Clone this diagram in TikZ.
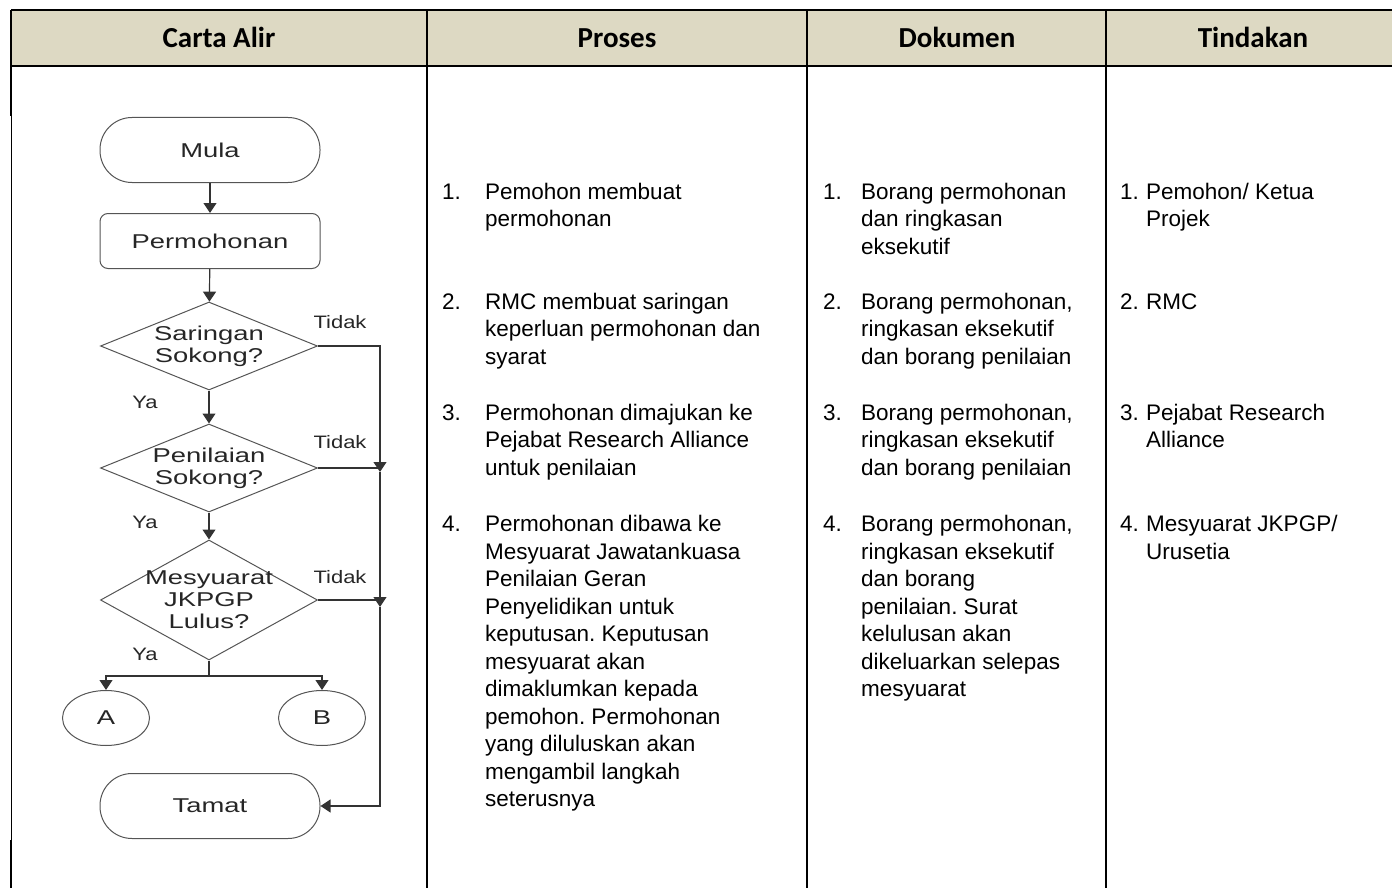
\documentclass[tikz,border=0pt]{standalone}
\usepackage{fontspec}
\setmainfont{Liberation Sans}
\newfontfamily\headfont{Carlito}
\newfontfamily\flowfont[FakeStretch=1.37]{Liberation Sans}
\newfontfamily\tagfont[FakeStretch=1.22]{Liberation Sans}
\usetikzlibrary{shapes.geometric,arrows.meta}
\definecolor{headfill}{HTML}{DDD9C3}
\definecolor{flowgray}{HTML}{555555}
\newcommand{\itemno}[2]{\llap{\makebox[#1][l]{#2}}}
\frenchspacing
\tikzset{
	tableline/.style={line width=2.5pt},
	headtext/.style={font=\headfont\bfseries\fontsize{29}{34}\selectfont, anchor=base, inner sep=0pt},
	cell/.style={anchor=north west, inner sep=0pt, align=left, font=\fontsize{22.5}{27.5}\selectfont},
	term/.style={draw=flowgray, line width=1pt, rounded corners=32pt, minimum width=220pt, minimum height=65pt, font=\flowfont\fontsize{20}{22}\selectfont, text=black!85},
	proc/.style={draw=flowgray, line width=1pt, rounded corners=8pt, minimum width=220pt, minimum height=55pt, font=\flowfont\fontsize{20}{22}\selectfont, text=black!85},
	decision/.style={diamond, draw=flowgray, line width=1pt, inner sep=0pt, minimum width=217pt},
	joint/.style={ellipse, draw=flowgray, line width=1pt, minimum width=87pt, minimum height=55pt, font=\flowfont\fontsize{20}{22}\selectfont, text=black!85},
	flowtext/.style={font=\flowfont\fontsize{20}{22}\selectfont, text=black!85, align=center},
	tag/.style={font=\tagfont\fontsize{18}{20}\selectfont, text=black!85},
	line/.style={draw=black!80, line width=1.2pt},
	flow/.style={line, -{Triangle[width=13pt,length=10pt]}}
}
\begin{document}
\begin{tikzpicture}[x=1pt, y=-1pt]
	\useasboundingbox (0,0) rectangle (1392,888);

	% Table
	\fill[headfill] (11,10) rectangle (1400,66);
	\draw[tableline] (11,10) -- (1400,10);
	\draw[tableline] (11,66) -- (1400,66);
	\draw[tableline] (11,10) -- (11,116);
	\draw[line width=1pt] (11,116) -- (11,840);
	\draw[tableline] (11,840) -- (11,888);
	\draw[tableline] (427,10) -- (427,888);
	\draw[tableline] (807,10) -- (807,888);
	\draw[tableline] (1106,10) -- (1106,888);

	% Header
	\node[headtext] (hcarta) at (219,48) {Carta Alir};
	\node[headtext] (hproses) at (617,48) {Proses};
	\node[headtext] (hdokumen) at (957,48) {Dokumen};
	\node[headtext] (htindakan) at (1253,48) {Tindakan};

	% Carta alir
	\node[term] (mula) at (210,150) {Mula};
	\node[proc] (perm) at (210,241) {Permohonan};
	\node[decision, minimum height=88pt, label={[flowtext]center:Saringan\\Sokong?}] (d1) at (209,346) {};
	\node[decision, minimum height=88pt, label={[flowtext]center:Penilaian\\Sokong?}] (d2) at (209,468) {};
	\node[decision, minimum height=120pt, label={[flowtext]center:Mesyuarat\\JKPGP\\Lulus?}] (d3) at (209,600) {};
	\node[joint] (ca) at (106,718) {A};
	\node[joint] (cb) at (322,718) {B};
	\node[term] (tamat) at (210,806) {Tamat};

	\node[tag] (tidak1) at (340,322) {Tidak};
	\node[tag] (tidak2) at (340,442) {Tidak};
	\node[tag] (tidak3) at (340,577) {Tidak};
	\node[tag] (ya1) at (145,402) {Ya};
	\node[tag] (ya2) at (145,522) {Ya};
	\node[tag] (ya3) at (145,654) {Ya};

	\coordinate (split) at (209,676);
	\coordinate (j1) at (380,472);
	\coordinate (j2) at (380,607);

	\draw[flow] (mula) -- (perm);
	\draw[flow] (perm) -- (d1);
	\draw[flow] (d1) -- (d2);
	\draw[flow] (d2) -- (d3);
	\draw[line] (d3.south) -- (split);
	\draw[flow] (split) -| (ca.north);
	\draw[flow] (split) -| (cb.north);
	\draw[flow] (d1.east) -| (j1);
	\draw[line] (d2.east) -- (d2.east -| j1);
	\draw[flow] (j1) -- (j2);
	\draw[line] (d3.east) -- (d3.east -| j2);
	\draw[flow] (j2) |- (tamat.east);

	% Proses
	\node[cell] (pr1) at (485,180) {\strut\itemno{43pt}{1.}Pemohon membuat\\permohonan};
	\node[cell] (pr2) at (485,290) {\strut\itemno{43pt}{2.}RMC membuat saringan\\keperluan permohonan dan\\syarat};
	\node[cell] (pr3) at (485,400.75) {\strut\itemno{43pt}{3.}Permohonan dimajukan ke\\Pejabat Research Alliance\\untuk penilaian};
	\node[cell] (pr4) at (485,512.25) {\strut\itemno{43pt}{4.}Permohonan dibawa ke\\Mesyuarat Jawatankuasa\\Penilaian Geran\\Penyelidikan untuk\\keputusan. Keputusan\\mesyuarat akan\\dimaklumkan kepada\\pemohon. Permohonan\\yang diluluskan akan\\mengambil langkah\\seterusnya};

	% Dokumen
	\node[cell] (do1) at (861,180) {\strut\itemno{38pt}{1.}Borang permohonan\\dan ringkasan\\eksekutif};
	\node[cell] (do2) at (861,290) {\strut\itemno{38pt}{2.}Borang permohonan,\\ringkasan eksekutif\\dan borang penilaian};
	\node[cell] (do3) at (861,400.75) {\strut\itemno{38pt}{3.}Borang permohonan,\\ringkasan eksekutif\\dan borang penilaian};
	\node[cell] (do4) at (861,512.25) {\strut\itemno{38pt}{4.}Borang permohonan,\\ringkasan eksekutif\\dan borang\\penilaian. Surat\\kelulusan akan\\dikeluarkan selepas\\mesyuarat};

	% Tindakan
	\node[cell] (ti1) at (1146,180) {\strut\itemno{26pt}{1.}Pemohon/ Ketua\\Projek};
	\node[cell] (ti2) at (1146,290) {\strut\itemno{26pt}{2.}RMC};
	\node[cell] (ti3) at (1146,400.75) {\strut\itemno{26pt}{3.}Pejabat Research\\Alliance};
	\node[cell] (ti4) at (1146,512.25) {\strut\itemno{26pt}{4.}Mesyuarat JKPGP/\\Urusetia};
\end{tikzpicture}
\end{document}
